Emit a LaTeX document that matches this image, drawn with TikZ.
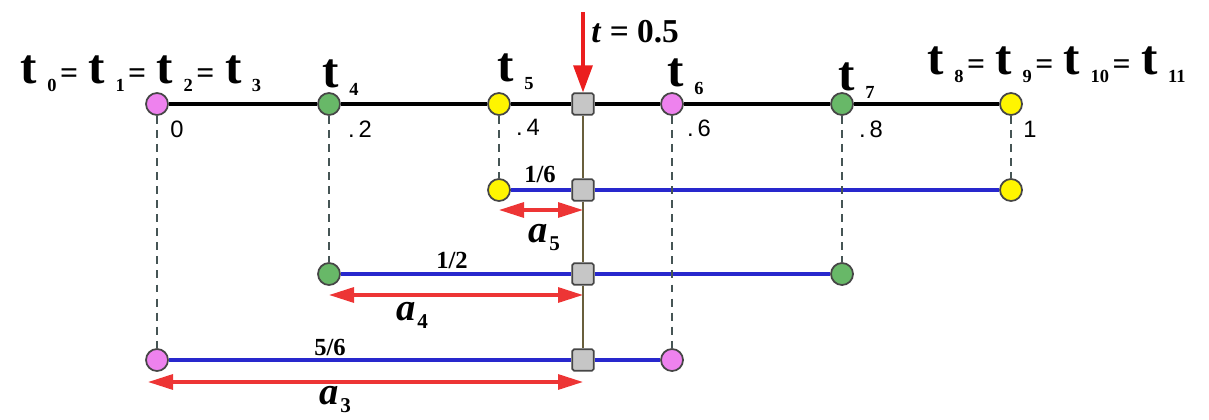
\documentclass[tikz,border=0pt]{standalone}
\usepackage{fontspec}
\setmainfont{Liberation Serif}
\setsansfont{Liberation Sans}
\usetikzlibrary{arrows.meta,positioning}
\definecolor{knotpink}{RGB}{238,130,238}
\definecolor{knotgreen}{RGB}{104,184,104}
\definecolor{knotyellow}{RGB}{255,245,0}
\definecolor{knotborder}{RGB}{70,70,70}
\definecolor{basisblue}{RGB}{40,40,205}
\definecolor{arrowred}{RGB}{235,30,30}
\definecolor{evalolive}{RGB}{105,95,60}
\definecolor{dashgray}{RGB}{70,85,85}

\newcommand{\tknot}[1]{{\fontsize{28}{30}\selectfont\textbf{t}}\hspace{6pt}\raisebox{-5pt}{\fontsize{10.5}{12}\selectfont\textbf{#1}}}
\newcommand{\keq}{\hspace{2pt}{\fontsize{18}{20}\selectfont\textbf{=}}\hspace{6pt}}
\newcommand{\alab}[1]{{\fontsize{22}{24}\selectfont\textbf{\textit{a}}}\hspace{1pt}\raisebox{-5pt}{\fontsize{12}{13}\selectfont\textbf{#1}}}

\begin{document}
\begin{tikzpicture}[
  x=0.02cm, y=-0.02cm,
  knot/.style={circle, draw=knotborder, line width=1pt, minimum size=0.44cm, inner sep=0pt},
  evalpt/.style={rectangle, draw=knotborder, line width=1pt, fill=gray!45, minimum size=0.43cm, inner sep=0pt, rounded corners=1pt},
  knotline/.style={line width=2.8pt, black},
  basisline/.style={line width=2pt, basisblue},
  dropline/.style={line width=1.2pt, dashgray, dash pattern=on 4.5pt off 3.5pt},
  evalline/.style={line width=1.4pt, evalolive},
  spanarrow/.style={line width=1.8pt, arrowred!90, {Triangle[length=0.5cm,width=0.3cm]}-{Triangle[length=0.5cm,width=0.3cm]}},
  tlab/.style={inner sep=0pt, anchor=base west},
  numlab/.style={inner sep=0pt, anchor=base, font=\sffamily\fontsize{13.5}{15}\selectfont},
  fraclab/.style={inner sep=0pt, anchor=base, font=\bfseries\fontsize{14}{16}\selectfont}
]
\useasboundingbox (0,0) rectangle (1209,419);

% --- Csomópontok a csomóvektoron ---
\node[knot, fill=knotpink]   (k0) at (157,104) {};
\node[knot, fill=knotgreen]  (k4) at (329,104) {};
\node[knot, fill=knotyellow] (k5) at (499,104) {};
\node[evalpt]                (p0) at (583,104) {};
\node[knot, fill=knotpink]   (k6) at (672,104) {};
\node[knot, fill=knotgreen]  (k7) at (842,104) {};
\node[knot, fill=knotyellow] (k8) at (1011,104) {};

% 1/6 sor
\node[knot, fill=knotyellow] (a5l) at (499,190) {};
\node[evalpt]                (a5m) at (583,190) {};
\node[knot, fill=knotyellow] (a5r) at (1011,190) {};

% 1/2 sor
\node[knot, fill=knotgreen]  (b4l) at (329,274) {};
\node[evalpt]                (b4m) at (583,274) {};
\node[knot, fill=knotgreen]  (b4r) at (842,274) {};

% 5/6 sor
\node[knot, fill=knotpink]   (c3l) at (157,360) {};
\node[evalpt]                (c3m) at (583,360) {};
\node[knot, fill=knotpink]   (c3r) at (672,360) {};

% --- Feliratok ---
\node[tlab] (lab0) at (20,83) {\tknot{0}\keq\tknot{1}\keq\tknot{2}\keq\tknot{3}};
\node[tlab] (lab4) at (322,87) {\tknot{4}};
\node[tlab] (lab5) at (497,81) {\tknot{5}};
\node[tlab] (lab6) at (667,86) {\tknot{6}};
\node[tlab] (lab7) at (838,90) {\tknot{7}};
\node[tlab] (lab8) at (927,74) {\tknot{8}\keq\tknot{9}\keq\tknot{10}\keq\tknot{11}};

\node[tlab] (tval) at (591,42) {\fontsize{19}{22}\selectfont\textbf{\textit{t} = 0.5}};

\node[numlab] (n0) at (177,137) {0};
\node[numlab] (n2) at (360,137) {.\,2};
\node[numlab] (n4) at (528,135) {.\,4};
\node[numlab] (n6) at (699,136) {.\,6};
\node[numlab] (n8) at (871,137) {.\,8};
\node[numlab] (n1) at (1030,137) {1};

\node[fraclab] (f16) at (540,182) {1/6};
\node[fraclab] (f12) at (452,268) {1/2};
\node[fraclab] (f56) at (330,355) {5/6};

\node[tlab] (a5) at (528,242) {\alab{5}};
\node[tlab] (a4) at (396,320) {\alab{4}};
\node[tlab] (a3) at (319,404) {\alab{3}};

% --- Vonalak ---
\foreach \a/\b in {k0/k4, k4/k5, k5/p0, p0/k6, k6/k7, k7/k8}
  \draw[knotline] (\a) -- (\b);

\foreach \a/\b in {a5l/a5m, a5m/a5r, b4l/b4m, b4m/b4r, c3l/c3m, c3m/c3r}
  \draw[basisline] (\a) -- (\b);

\foreach \a/\b in {k0/c3l, k4/b4l, k5/a5l, k6/c3r, k7/b4r, k8/a5r}
  \draw[dropline] (\a) -- (\b);

\foreach \a/\b in {p0/a5m, a5m/b4m, b4m/c3m}
  \draw[evalline] (\a) -- (\b);

% --- Piros nyilak ---
\coordinate (tin) at (583,12);
\draw[line width=1.8pt, arrowred, -{Triangle[length=0.54cm,width=0.38cm]}] (tin) -- (p0.north);

\draw[spanarrow] ([yshift=-0.4cm]a5l.center) -- ([yshift=-0.4cm]a5m.center);
\draw[spanarrow] ([yshift=-0.42cm]b4l.center) -- ([yshift=-0.42cm]b4m.center);
\draw[spanarrow] ([xshift=-0.18cm,yshift=-0.44cm]c3l.center) -- ([yshift=-0.44cm]c3m.center);

\end{tikzpicture}
\end{document}
